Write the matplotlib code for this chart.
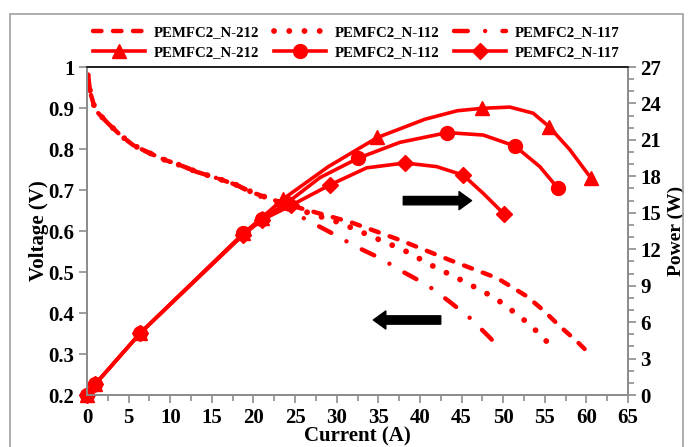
import matplotlib
matplotlib.use("Agg")
from matplotlib import pyplot as plt
from matplotlib.patches import Rectangle
from matplotlib.ticker import MultipleLocator

# voltage (polarization) curves
v212_I = [0.1, 0.4, 1, 2.5, 4, 5.5, 7.2, 9.4, 11.4, 13.2, 15.6, 18, 20, 22.4, 24, 27,
          31.6, 37.6, 43.6, 49.3, 52.9, 54.8, 56.9, 58.8, 60.5]
v212_V = [0.98, 0.937, 0.895, 0.863, 0.834, 0.81, 0.793, 0.773, 0.759, 0.744, 0.729,
          0.712, 0.693, 0.676, 0.665, 0.648, 0.622, 0.578, 0.529, 0.485, 0.44, 0.407,
          0.366, 0.332, 0.298]

v112_I = [0.1, 0.4, 1, 2.5, 4, 5.5, 7.2, 9.4, 11.4, 13.2, 15.6, 18, 20, 22.4, 24, 27,
          30.4, 34.4, 38, 41.8, 45.4, 49, 50.8, 52.4, 54, 55.4]
v112_V = [0.98, 0.937, 0.895, 0.863, 0.834, 0.81, 0.793, 0.773, 0.759, 0.744, 0.729,
          0.712, 0.693, 0.676, 0.662, 0.642, 0.62, 0.585, 0.554, 0.512, 0.476, 0.437,
          0.41, 0.385, 0.356, 0.327]

v117_I = [0.1, 0.4, 1, 2.5, 4, 5.5, 7.2, 9.4, 11.4, 13.2, 15.6, 18, 20, 22.4, 24, 26.4,
          29.4, 32.4, 35.2, 38, 40.9, 43.6, 46, 48.4, 49.3]
v117_V = [0.98, 0.937, 0.895, 0.863, 0.834, 0.81, 0.793, 0.773, 0.759, 0.744, 0.729,
          0.712, 0.69, 0.672, 0.655, 0.627, 0.595, 0.561, 0.534, 0.5, 0.468, 0.427,
          0.388, 0.34, 0.32]

# power curves (marker points plus a few points along the line)
p212_I = [0, 1, 6.4, 18.8, 21, 23.5, 29, 34.9, 40.6, 44.5, 47.5, 50.8, 53.6, 55.5, 58, 60.5]
p212_P = [0, 0.9, 5.1, 13.3, 14.6, 16.1, 18.8, 21.2, 22.7, 23.4, 23.6, 23.7, 23.2, 22.1, 20.2, 17.9]
p212_marks = [0, 1, 2, 3, 4, 5, 7, 10, 13, 15]

p112_I = [0, 1, 6.4, 18.8, 21, 24, 28, 32.6, 37.6, 43.3, 47.6, 51.4, 54.4, 56.6]
p112_P = [0, 0.9, 5.1, 13.3, 14.5, 15.8, 17.9, 19.5, 20.8, 21.6, 21.4, 20.5, 18.8, 17.0]
p112_marks = [0, 1, 2, 3, 4, 5, 7, 9, 11, 13]

p117_I = [0, 1, 6.4, 18.8, 21, 24.5, 29.2, 33.6, 38.2, 42, 45.2, 47.6, 50.1]
p117_P = [0, 0.9, 5.1, 13.2, 14.4, 15.6, 17.3, 18.7, 19.1, 18.8, 18.1, 16.6, 14.9]
p117_marks = [0, 1, 2, 3, 4, 5, 6, 8, 10, 12]

labels = ["PEMFC2_N-212", "PEMFC2_N-112", "PEMFC2_N-117"]

RED = "#ff0000"
GRAY = "#8c8c8c"

plt.rcParams["font.family"] = ["Liberation Serif", "DejaVu Serif"]
plt.rcParams["font.weight"] = "bold"

fig = plt.figure(figsize=(6.89, 4.47), dpi=100)
ax = fig.add_axes([0.1263, 0.1163, 0.7852, 0.7338])
ax2 = ax.twinx()

# polarization curves
l1, = ax.plot(v212_I, v212_V, color=RED, lw=3.2, ls=(0, (1.9, 2.6)),
              dash_capstyle="round", label=labels[0])
l2, = ax.plot(v112_I, v112_V, color=RED, lw=4.2, ls=(0, (0.01, 2.6)),
              dash_capstyle="round", label=labels[1])
l3, = ax.plot(v117_I, v117_V, color=RED, lw=3.2, ls=(0, (3.1, 3.9, 0.01, 3.9)),
              dash_capstyle="round", label=labels[2])

# power curves
m1, = ax2.plot(p212_I, p212_P, color=RED, lw=2.6, marker="^", ms=10,
               markevery=p212_marks, clip_on=False, label=labels[0])
m2, = ax2.plot(p112_I, p112_P, color=RED, lw=2.6, marker="o", ms=10,
               markevery=p112_marks, clip_on=False, label=labels[1])
m3, = ax2.plot(p117_I, p117_P, color=RED, lw=2.6, marker="D", ms=8,
               markevery=p117_marks, clip_on=False, label=labels[2])

ax.set_xlim(0, 65)
ax.set_ylim(0.2, 1.0)
ax2.set_ylim(0, 27)
ax.xaxis.set_major_locator(MultipleLocator(5))
ax.xaxis.set_minor_locator(MultipleLocator(2.5))
ax.yaxis.set_major_locator(MultipleLocator(0.1))
ax2.yaxis.set_major_locator(MultipleLocator(3))
ax2.yaxis.set_minor_locator(MultipleLocator(1))
ax.yaxis.set_major_formatter(plt.FuncFormatter(lambda v, p: f"{v:g}"))

for a in (ax, ax2):
    a.tick_params(which="both", direction="out", color=GRAY, width=1.2)
    a.tick_params(which="major", length=6, labelsize=15, pad=3)
    a.tick_params(which="minor", length=4)
    for s in a.spines.values():
        s.set_color(GRAY)
        s.set_linewidth(1.3)
    a.spines["top"].set_color("#222222")

ax.set_xlabel("Current (A)", fontsize=15, fontweight="bold", labelpad=-1)
ax.set_ylabel("Voltage (V)", fontsize=15, fontweight="bold", labelpad=0)
ax2.set_ylabel("Power (W)", fontsize=14, fontweight="bold")
ax2.yaxis.set_label_coords(1.073, 0.5)

# direction arrows
arrow = dict(arrowstyle="simple,head_length=0.9,head_width=1.3,tail_width=0.6",
             color="black", shrinkA=0, shrinkB=0)
ax2.annotate("", xy=(46.2, 16.0), xytext=(38.0, 16.0), arrowprops=arrow)
ax.annotate("", xy=(34.4, 0.383), xytext=(42.5, 0.383), arrowprops=arrow)

ax.legend([l1, m1, l2, m2, l3, m3], [labels[0], labels[0], labels[1], labels[1],
          labels[2], labels[2]], ncol=3, frameon=False, loc="lower left",
          bbox_to_anchor=(-0.006, 0.997), prop={"size": 10.7, "weight": "bold"},
          handlelength=3.5, handletextpad=0.6, columnspacing=1.0,
          labelspacing=0.45, borderaxespad=0.2)

# outer chart border
fig.patches.append(Rectangle((10 / 689, -0.05), 673 / 689, 1.05 - 14 / 447,
                             transform=fig.transFigure, fill=False,
                             edgecolor="#a0a0a0", lw=1.2))

fig.savefig("out.png", dpi=100)
